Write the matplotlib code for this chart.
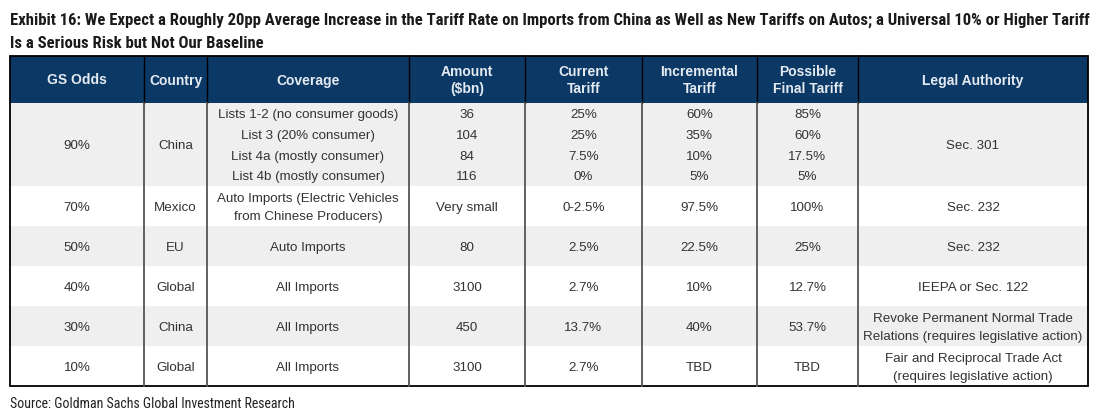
import matplotlib
matplotlib.use('Agg')
import matplotlib.pyplot as plt
from matplotlib.patches import Rectangle
from matplotlib import font_manager


def pick_font(names):
    avail = set(f.name for f in font_manager.fontManager.ttflist)
    for n in names:
        if n in avail:
            return n
    return 'DejaVu Sans'


narrow = pick_font(['Liberation Sans Narrow', 'Roboto Condensed', 'Open Sans Condensed', 'Roboto'])
body = pick_font(['Liberation Sans', 'Arial', 'DejaVu Sans'])

title_lines = ['Exhibit 16: We Expect a Roughly 20pp Average Increase in the Tariff Rate on Imports from China as Well as New Tariffs on Autos; a Universal 10% or Higher Tariff',
               'Is a Serious Risk but Not Our Baseline']
source = 'Source: Goldman Sachs Global Investment Research'

headers = ['GS Odds', 'Country', 'Coverage', 'Amount\n($bn)', 'Current\nTariff',
           'Incremental\nTariff', 'Possible\nFinal Tariff', 'Legal Authority']

odds = ['90%', '70%', '50%', '40%', '30%', '10%']
countries = ['China', 'Mexico', 'EU', 'Global', 'China', 'Global']
coverage = [['Lists 1-2 (no consumer goods)', 'List 3 (20% consumer)',
             'List 4a (mostly consumer)', 'List 4b (mostly consumer)'],
            ['Auto Imports (Electric Vehicles\nfrom Chinese Producers)'],
            ['Auto Imports'], ['All Imports'], ['All Imports'], ['All Imports']]
amount = [['36', '104', '84', '116'], ['Very small'], ['80'], ['3100'], ['450'], ['3100']]
current = [['25%', '25%', '7.5%', '0%'], ['0-2.5%'], ['2.5%'], ['2.7%'], ['13.7%'], ['2.7%']]
incremental = [['60%', '35%', '10%', '5%'], ['97.5%'], ['22.5%'], ['10%'], ['40%'], ['TBD']]
final = [['85%', '60%', '17.5%', '5%'], ['100%'], ['25%'], ['12.7%'], ['53.7%'], ['TBD']]
legal = ['Sec. 301', 'Sec. 232', 'Sec. 232', 'IEEPA or Sec. 122',
         'Revoke Permanent Normal Trade\nRelations (requires legislative action)',
         'Fair and Reciprocal Trade Act\n(requires legislative action)']

# layout (pixels)
col_edges = [10, 144, 207, 409, 525, 642, 757, 858, 1088]
head_top, head_bot = 56, 103
row_h = [83, 40, 40, 40, 40, 40]
navy = '#0b3865'
grey = '#efefef'
txt = '#333333'

fig = plt.figure(figsize=(10.98, 4.16), dpi=100)
ax = fig.add_axes([0, 0, 1, 1])
ax.set_xlim(0, 1098)
ax.set_ylim(416, 0)
ax.axis('off')
renderer = fig.canvas.get_renderer()


def fit(t, width):
    w = t.get_window_extent(renderer).width
    t.set_fontsize(t.get_fontsize() * width / w)


# title
t1 = ax.text(10, 20, title_lines[0], fontfamily=narrow, fontweight='bold', fontsize=12,
             color='#1a1a1a', va='center', ha='left')
fit(t1, 1078)
ax.text(10, 43, title_lines[1], fontfamily=narrow, fontweight='bold', fontsize=t1.get_fontsize(),
        color='#1a1a1a', va='center', ha='left')

# header
ax.add_patch(Rectangle((col_edges[0], head_top), col_edges[-1] - col_edges[0], head_bot - head_top,
                       color=navy, lw=0))
for i, h in enumerate(headers):
    cx = (col_edges[i] + col_edges[i + 1]) / 2
    ax.text(cx, (head_top + head_bot) / 2 + 1, h, ha='center', va='center', fontfamily=body,
            fontweight='bold', fontsize=10, color='#e4eaf1', linespacing=1.3)

# body
y = head_bot
cols = [odds, countries, coverage, amount, current, incremental, final, legal]
for r, h in enumerate(row_h):
    bg = grey if r % 2 == 0 else 'white'
    ax.add_patch(Rectangle((col_edges[0], y), col_edges[-1] - col_edges[0], h, color=bg, lw=0))
    for c, col in enumerate(cols):
        cx = (col_edges[c] + col_edges[c + 1]) / 2
        vals = col[r] if isinstance(col[r], list) else [col[r]]
        sub = h / len(vals)
        for j, v in enumerate(vals):
            ax.text(cx, y + sub * (j + 0.5) + 1.8, v, ha='center', va='center', fontfamily=body,
                    fontsize=9.6, color=txt, linespacing=1.65)
    y += h

for x in col_edges[1:-1]:
    ax.plot([x, x], [head_top, head_bot], color='black', lw=1.0)
    ax.plot([x, x], [head_bot, y], color='#555555', lw=1.3)
ax.add_patch(Rectangle((col_edges[0], head_top), col_edges[-1] - col_edges[0], y - head_top,
                       fill=False, ec='black', lw=1.3))

s = ax.text(10, 404, source, fontfamily=narrow, fontsize=10, color='#222222', va='center', ha='left')
fit(s, 286)

fig.savefig('out.png', dpi=100)
